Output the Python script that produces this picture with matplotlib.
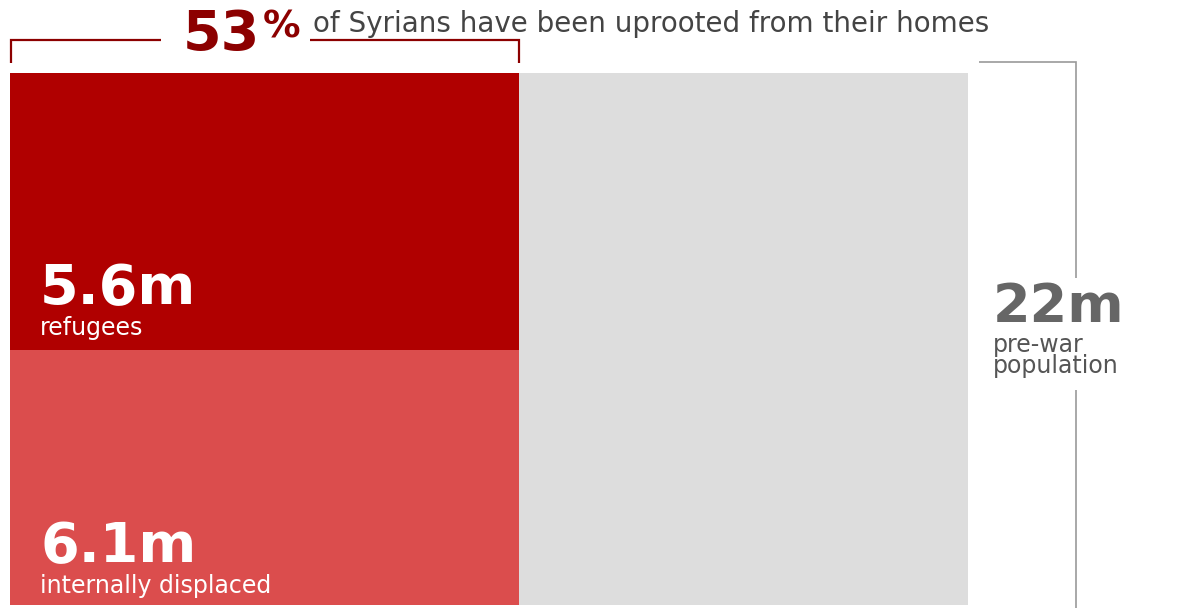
import matplotlib
matplotlib.use('Agg')
import matplotlib.pyplot as plt
from matplotlib.lines import Line2D

# values (millions)
population = 22.0
refugees = 5.6
displaced = 6.1
uprooted_share = 53
# block heights as drawn in the graphic (share of bar height, bottom -> top)
block_heights = [0.48, 0.52]
block_names = ['internally displaced', 'refugees']

W, H = 1177, 608
DARK = '#b00000'
LIGHT = '#db4d4d'
GREY = '#dddddd'
HEAD = '#8c0000'

plt.rcParams['font.family'] = ['DejaVu Sans']

fig = plt.figure(figsize=(W / 100, H / 100), dpi=100)
ax = fig.add_axes([10 / W, 1 - 605 / H, 958 / W, 532 / H])
ax.set_xlim(0, population)
ax.set_ylim(0, 1)
ax.axis('off')


def px(x, y):
    return x / W, 1 - y / H


def line(xs, ys, color, lw):
    fx = [x / W for x in xs]
    fy = [1 - y / H for y in ys]
    fig.add_artist(Line2D(fx, fy, color=color, lw=lw, transform=fig.transFigure,
                          solid_capstyle='butt', solid_joinstyle='miter'))


red_width = refugees + displaced
ax.bar(0, 1, width=population, align='edge', color=GREY, lw=0)
ax.bar(0, block_heights[0], width=red_width, align='edge', color=LIGHT, lw=0)
ax.bar(0, block_heights[1], bottom=block_heights[0], width=red_width,
       align='edge', color=DARK, lw=0)

# block labels
fig.text(*px(40, 304), f'{refugees}m', color='white', fontsize=40,
         fontweight='bold', va='baseline')
fig.text(*px(40, 335), block_names[1], color='white', fontsize=17, va='baseline')
fig.text(*px(40, 562), f'{displaced}m', color='white', fontsize=40,
         fontweight='bold', va='baseline')
fig.text(*px(40, 593), block_names[0], color='white', fontsize=17, va='baseline')

# headline
t53 = fig.text(*px(183, 50), f'{uprooted_share}', color=HEAD, fontsize=40,
               fontweight='bold', va='baseline')
fig.canvas.draw()
r = fig.canvas.get_renderer()
bb = t53.get_window_extent(r)
tpct = fig.text((bb.x1 + 3) / W, 1 - 38 / H, '%', color=HEAD, fontsize=27,
                fontweight='bold', va='baseline')
fig.canvas.draw()
bbp = tpct.get_window_extent(r)
fig.text((bbp.x1 + 12) / W, 1 - 32 / H,
         'of Syrians have been uprooted from their homes',
         color='#444444', fontsize=20, va='baseline')

# bracket over uprooted share
x0 = ax.transData.transform((0, 0))[0] + 1
x1 = ax.transData.transform((red_width, 0))[0]
line([x0, x0, bb.x0 - 22], [63, 40, 40], HEAD, 1.6)
line([bbp.x1 + 9, x1, x1], [40, 40, 63], HEAD, 1.6)

# pre-war population bracket
gx = ax.transData.transform((population, 0))[0]
line([gx + 11, 1076, 1076], [62, 62, 278], '#999999', 1.2)
line([1076, 1076], [390, 608], '#999999', 1.2)
fig.text(*px(993, 322), f'{population:.0f}m', color='#666666', fontsize=39,
         fontweight='bold', va='baseline')
fig.text(*px(993, 333), 'pre-war\npopulation', color='#555555', fontsize=17,
         va='top', linespacing=0.85)

fig.savefig('out.png', dpi=100, facecolor='white')
